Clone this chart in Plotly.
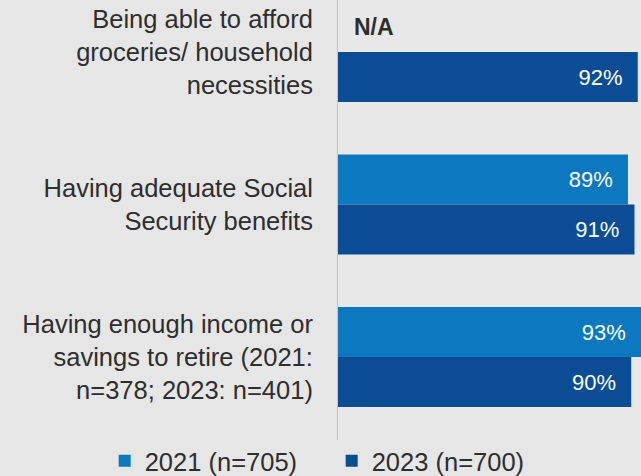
import plotly.graph_objects as go

categories = [
    "Being able to afford<br>groceries/ household<br>necessities",
    "Having adequate Social<br>Security benefits",
    "Having enough income or<br>savings to retire (2021:<br>n=378; 2023: n=401)",
]
values_2021 = [None, 89, 93]
values_2023 = [92, 91, 90]
series_names = ["2021 (n=705)", "2023 (n=700)"]
colors = ["#0b78c0", "#0a4d95"]
na_label = "N/A"

FONT = "Liberation Sans, Arial, sans-serif"
NB = "\u00a0\u00a0"

def labels(vals):
    return [("" if v is None else f"{v}%{NB}") for v in vals]

fig = go.Figure()
for name, vals, col in zip(series_names, [values_2021, values_2023], colors):
    fig.add_trace(go.Bar(
        y=categories, x=vals, orientation="h", name=name,
        marker=dict(color=col, line=dict(width=0)),
        text=labels(vals), textposition="inside", insidetextanchor="end",
        textfont=dict(family=FONT, size=22, color="white"),
        cliponaxis=True,
    ))

# N/A marker for missing 2021 value
for cat, v in zip(categories, values_2021):
    if v is None:
        fig.add_annotation(x=0, y=cat, xref="x", yref="y", text=f"<b>{na_label}</b>",
                           showarrow=False, xanchor="left", yanchor="middle",
                           xshift=14, yshift=25,
                           font=dict(family=FONT, size=23, color="#2e2e2e"))

fig.update_layout(
    width=641, height=476,
    margin=dict(l=338, r=0, t=0, b=36, autoexpand=False),
    paper_bgcolor="#e6e6e6", plot_bgcolor="#e8e8e8",
    barmode="group", bargap=0.344, bargroupgap=0,
    showlegend=True,
    legend=dict(orientation="h", x=-0.77, xanchor="left",
                y=-0.048, yanchor="middle",
                font=dict(family=FONT, size=25.5, color="#2e2e2e"),
                entrywidth=182, entrywidthmode="pixels",
                bgcolor="rgba(0,0,0,0)", traceorder="normal"),
    font=dict(family=FONT, color="#2e2e2e"),
)
fig.update_xaxes(range=[0, 93], visible=False, showgrid=False, zeroline=False)
fig.update_yaxes(range=[2.544, -0.341], showgrid=False, zeroline=False,
                 showline=True, linecolor="#c4c4c4", linewidth=1,
                 ticks="", ticklabelstandoff=19, automargin=False,
                 tickfont=dict(family=FONT, size=25.5, color="#2e2e2e"))

fig.write_html("out.html")
